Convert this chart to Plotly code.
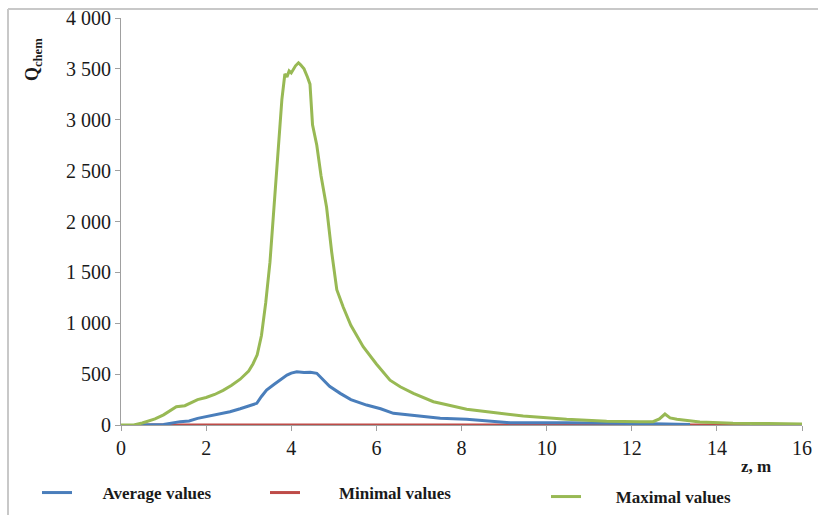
import plotly.graph_objects as go

# ---- data ----
z_avg = [0.47, 1.0, 1.39, 1.6, 1.8, 2.0, 2.2, 2.4, 2.56, 2.8, 3.0, 3.19, 3.3, 3.42, 3.6, 3.74,
         3.9, 4.0, 4.13, 4.3, 4.45, 4.6, 4.75, 4.9, 5.15, 5.4, 5.77, 6.1, 6.4, 7.0, 7.5, 8.12,
         8.6, 9.14, 10.47, 11.5, 12.5, 13.37]
q_avg = [0, 5, 33, 40, 65, 82, 100, 115, 131, 160, 185, 213, 280, 344, 400, 442,
         490, 510, 524, 515, 518, 508, 442, 380, 311, 250, 196, 160, 115, 90, 66, 56,
         40, 23, 23, 20, 12, 5]

z_min = [0.47, 14.78]
q_min = [0, 0]

z_max = [0.0, 0.3, 0.5, 0.8, 1.0, 1.2, 1.3, 1.5, 1.7, 1.8, 2.0, 2.2, 2.4, 2.6, 2.8, 3.0, 3.1,
         3.2, 3.3, 3.4, 3.5, 3.55, 3.6, 3.7, 3.78, 3.85, 3.9, 3.95, 4.0, 4.1, 4.17, 4.22,
         4.3, 4.38, 4.44, 4.5, 4.6, 4.7, 4.83, 4.95, 5.07, 5.22, 5.4, 5.69, 6.0, 6.32, 6.56,
         6.87, 7.34, 7.5, 8.12, 8.8, 9.45, 10.47, 11.41, 12.2, 12.5, 12.65, 12.78, 12.9,
         13.06, 13.6, 14.38, 15.2, 16.0]
q_max = [0, 0, 20, 60, 100, 150, 180, 190, 230, 250, 270, 300, 340, 390, 450, 530, 600,
         690, 880, 1200, 1600, 1900, 2200, 2800, 3200, 3450, 3420, 3480, 3460, 3530, 3560, 3540,
         3500, 3420, 3350, 2950, 2750, 2450, 2140, 1700, 1330, 1160, 980, 770, 600, 440, 376,
         311, 229, 213, 154, 120, 88, 56, 36, 33, 33, 60, 108, 70,
         56, 29, 16, 14, 10]

series_names = ["Average values", "Minimal values", "Maximal values"]
series_colors = ["#4a7ebb", "#be4b48", "#98b954"]

y_tickvals = [0, 500, 1000, 1500, 2000, 2500, 3000, 3500, 4000]
y_ticktext = ["0", "500", "1 000", "1 500", "2 000", "2 500", "3 000", "3 500", "4 000"]
x_tickvals = [0, 2, 4, 6, 8, 10, 12, 14, 16]

FONT = "Liberation Serif"
W, H = 818, 515
ML, MR, MT, MB = 121, 16, 18, 90
PW, PH = W - ML - MR, H - MT - MB


def px_x(p):
    return (p - ML) / PW


def px_y(p):
    return (H - MB - p) / PH


pads = [6, 8, 7]
legend_ids = ["legend", "legend2", "legend3"]
fig = go.Figure()
for xs, ys, name, col, lg, pad in zip([z_avg, z_min, z_max], [q_avg, q_min, q_max],
                                      series_names, series_colors, legend_ids, pads):
    fig.add_trace(go.Scatter(x=xs, y=ys, mode="lines", name="\u00a0" * pad + "<b>" + name + "</b>",
                             line=dict(color=col, width=3), legend=lg))
fig.data = (fig.data[1], fig.data[0], fig.data[2])

leg_common = dict(orientation="h", bgcolor="rgba(0,0,0,0)", borderwidth=0,
                  font=dict(family=FONT, size=17, color="#1a1a1a"),
                  xanchor="left", yanchor="middle")
fig.update_layout(
    width=W, height=H,
    margin=dict(l=ML, r=MR, t=MT, b=MB, autoexpand=False),
    paper_bgcolor="white", plot_bgcolor="white",
    showlegend=True,
    legend=dict(x=px_x(37), y=px_y(493), **leg_common),
    legend2=dict(x=px_x(265), y=px_y(493), **leg_common),
    legend3=dict(x=px_x(546), y=px_y(497), **leg_common),
    xaxis=dict(range=[0, 16], tickvals=x_tickvals, ticks="outside", ticklen=5,
               tickcolor="#a0a0a0", showline=True, linecolor="#a0a0a0", linewidth=1,
               showgrid=False, zeroline=False,
               tickfont=dict(family=FONT, size=20, color="#1a1a1a")),
    yaxis=dict(range=[0, 4000], tickvals=y_tickvals, ticktext=y_ticktext, ticks="outside",
               ticklen=5, tickcolor="#a0a0a0", showline=True, linecolor="#a0a0a0",
               linewidth=1, showgrid=False, zeroline=False, ticksuffix="\u00a0",
               tickfont=dict(family=FONT, size=20, color="#1a1a1a")),
    annotations=[
        dict(text="<b>z, m</b>", xref="paper", yref="paper", x=px_x(756), y=px_y(466),
             xanchor="center", yanchor="middle",
             showarrow=False, font=dict(family=FONT, size=17, color="#1a1a1a")),
        dict(text="<b>Q<sub>chem</sub></b>", xref="paper", yref="paper", x=px_x(34), y=px_y(60),
             xanchor="center", yanchor="middle",
             showarrow=False, textangle=-90, font=dict(family=FONT, size=18, color="#1a1a1a")),
    ],
    shapes=[
        dict(type="line", xref="paper", yref="paper", x0=px_x(8), x1=px_x(830),
             y0=px_y(9), y1=px_y(9), line=dict(color="#c8c8c8", width=2)),
        dict(type="line", xref="paper", yref="paper", x0=px_x(8), x1=px_x(8),
             y0=px_y(9), y1=px_y(530), line=dict(color="#c8c8c8", width=2)),
    ],
)

fig.write_html("out.html")
